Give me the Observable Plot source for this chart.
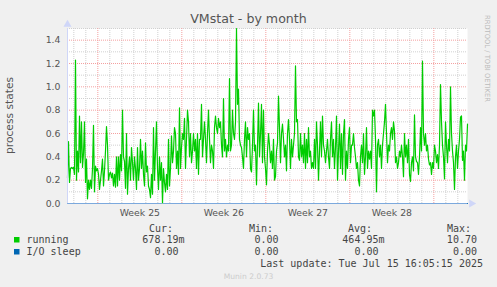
<!DOCTYPE html>
<html><head><meta charset="utf-8">
<script src="https://cdn.jsdelivr.net/npm/d3@7"></script>
<script src="https://cdn.jsdelivr.net/npm/@observablehq/plot@0.6"></script>
<style>
html,body{margin:0;padding:0;background:#f0f0f0;}
#wrap{position:relative;width:497px;height:287px;overflow:hidden;background:#f0f0f0;}
#wrap svg{position:absolute;left:0;top:0;}
</style></head><body><div id="wrap"></div>
<script>
// ---- data (2-hour averages) ----
const running = [
0.22,0.53,0.18,0.3,0.31,0.3,0.31,0.25,1.23,0.2,
0.45,0.27,0.75,0.35,0.7,0.31,0.43,0.7,0.18,0.38,
0.04,0.2,0.12,0.2,0.13,0.3,0.67,0.1,0.32,0.28,
0.3,0.25,0.12,0.2,0.28,0.38,0.15,0.28,0.45,0.66,
0.5,0.2,0.25,0.27,0.22,0.26,0.15,0.25,0.14,0.4,
0.15,0.4,0.2,0.42,0.28,0.8,0.4,0.36,0.13,0.6,
0.08,0.3,0.4,0.2,0.48,0.35,0.2,0.4,0.3,0.12,
0.48,0.2,0.3,0.55,0.3,0.45,0.25,0.15,0.52,0.27,
0.32,
0.15,0.12,0.05,0.25,0.08,0.65,0.2,0.45,0.7,0.3,
0.12,0.4,0.2,0.35,0.0,0.3,0.18,0.1,0.25,0.12,
0.55,0.15,0.3,0.58,0.35,0.45,0.65,0.6,0.3,0.45,
0.25,0.82,0.3,0.48,0.6,0.55,0.73,0.3,0.55,0.8,
0.7,0.4,0.6,0.35,0.45,0.6,0.45,0.55,0.3,0.6,
0.25,0.55,0.55,0.85,0.4,0.55,0.7,0.55,0.35,0.6,
0.8,0.55,0.35,0.5,0.45,0.3,0.65,0.75,0.65,0.6,
0.73,0.65,0.7,0.5,0.4,0.9,0.45,0.55,0.4,0.5,
0.45,1.07,
0.45,0.5,0.8,0.6,0.55,0.7,1.5,0.85,0.98,0.55,
0.5,0.48,0.4,0.3,0.55,0.7,0.4,0.65,0.55,0.6,
0.3,0.27,0.5,0.8,0.45,0.5,0.16,0.5,0.86,0.4,
0.6,0.85,0.35,0.8,0.4,0.3,0.16,0.45,0.6,0.5,
0.35,0.45,0.3,0.55,0.2,0.23,0.45,0.52,0.92,0.65,
0.35,0.6,0.68,0.55,0.4,0.5,0.28,0.6,0.72,0.55,
0.3,0.55,0.4,0.5,0.6,1.18,0.7,0.72,0.4,0.37,
0.6,0.4,0.5,0.35,0.6,0.3,0.55,0.35,0.65,0.4,
0.45,0.3,
0.35,0.3,0.55,0.3,0.7,0.5,0.2,0.45,0.7,0.4,
0.75,0.5,0.45,0.35,0.45,0.55,0.4,0.3,0.55,0.7,
0.4,0.55,0.3,0.48,0.75,0.2,0.45,0.68,0.3,0.6,
0.25,0.6,0.72,0.2,0.45,0.3,0.55,0.65,0.35,0.5,
0.5,0.6,0.48,0.4,0.3,0.35,0.2,0.15,0.4,0.5,
0.35,0.6,0.25,0.4,0.65,0.3,0.45,0.38,0.45,0.3,
0.8,0.75,0.8,0.55,0.1,0.5,0.55,0.4,0.5,0.3,
0.5,0.6,0.7,0.85,0.6,0.35,0.5,0.45,0.6,0.65,
0.55,0.7,
0.62,0.35,0.4,0.3,0.35,0.45,0.4,0.5,0.4,0.23,
0.6,0.4,0.5,0.35,0.55,0.25,0.19,0.35,0.4,0.28,
0.76,0.4,0.36,0.35,0.25,0.4,0.65,0.45,1.22,0.6,
0.5,0.6,0.45,0.5,0.38,0.33,0.35,0.25,0.35,0.3,
0.5,0.45,0.35,0.42,0.3,0.5,1.02,0.7,0.5,0.4,
0.21,0.7,0.5,0.35,0.55,0.45,1.0,0.6,0.45,0.35,
0.12,0.4,0.5,0.3,0.45,0.55,0.74,0.75,0.37,0.45,
0.2,0.5,0.45,0.68
];
const ioSleep = [0, 0];           // flat at 0.00 over the whole period
const weekLabels = ["Week 25", "Week 26", "Week 27", "Week 28"];
const yTicks = [0, 0.2, 0.4, 0.6, 0.8, 1.0, 1.2, 1.4];
const yMinor = [0.1, 0.3, 0.5, 0.7, 0.9, 1.1, 1.3, 1.5];
const yMajor = [0.2, 0.4, 0.6, 0.8, 1.0, 1.2, 1.4];
const legendNames = ["running", "I/O sleep"];
const legendColors = ["#00cc00", "#0066b3"];
const legendHeaders = ["Cur:", "Min:", "Avg:", "Max:"];
const curValues = ["678.19m", "  0.00 "];
const minValues = ["  0.00 ", "  0.00 "];
const avgValues = ["464.95m", "  0.00 "];
const maxValues = [" 10.70 ", "  0.00 "];
const titleText = "VMstat - by month";
const yLabelText = "process states";
const lastUpdateText = "Last update: Tue Jul 15 16:05:15 2025";
const footerText = "Munin 2.0.73";
const watermarkText = "RRDTOOL / TOBI OETIKER";
const startTime = new Date(Date.UTC(2025, 5, 13, 11, 20));
const stepHours = 2;

// ---- derived ----
const series = running.map((v, i) => ({t: d3.utcHour.offset(startTime, i * stepHours), v}));
const endTime = series[series.length - 1].t;
const days = d3.utcDay.range(startTime, endTime);
const mondays = d3.utcMonday.range(startTime, endTime);
const minorDays = days.filter(d => d.getUTCDay() !== 1);
const weekMids = mondays.slice(0, weekLabels.length).map(d => d3.utcHour.offset(d, 84));
const labelByTime = new Map(weekMids.map((d, i) => [+d, weekLabels[i]]));
const ioSeries = ioSleep.map((v, i) => ({t: i === 0 ? startTime : endTime, v}));

const W = 497, H = 287;
const gridDash = "1,1";
const chart = Plot.plot({
  width: W, height: H,
  marginLeft: 67, marginRight: 30, marginTop: 28, marginBottom: 84,
  style: {background: "transparent", fontFamily: "DejaVu Sans, sans-serif", fontSize: "9.33px", color: "#555", overflow: "visible"},
  x: {type: "utc", domain: [startTime, endTime]},
  y: {domain: [0, 1.5]},
  marks: [
    Plot.frame({fill: "white", stroke: "none"}),
    Plot.ruleX(minorDays, {stroke: "#d0d0d0", strokeDasharray: gridDash}),
    Plot.ruleY(yMinor, {stroke: "#d0d0d0", strokeDasharray: gridDash}),
    Plot.ruleX(mondays, {stroke: "#f4a0a0", strokeDasharray: gridDash}),
    Plot.ruleY(yMajor, {stroke: "#f4a0a0", strokeDasharray: gridDash}),
    Plot.line(ioSeries, {x: "t", y: "v", stroke: legendColors[1], strokeWidth: 1}),
    Plot.line(series, {x: "t", y: "v", stroke: legendColors[0], strokeWidth: 1.2}),
    Plot.ruleY([0], {stroke: "#cfd6f8", strokeOpacity: 0.6}),
    Plot.ruleX([startTime], {stroke: "#cfd6f8"}),
    Plot.dot([{t: endTime, v: 0}], {x: "t", y: "v", symbol: "triangle", rotate: 90, r: 3, fill: "#cfd6f8", stroke: "none", dx: 4}),
    Plot.dot([{t: startTime, v: 1.5}], {x: "t", y: "v", symbol: "triangle", r: 3, fill: "#cfd6f8", stroke: "none", dy: -4}),
    Plot.axisY(yTicks, {tickSize: 0, tickPadding: 7, tickFormat: d3.format(".1f"), label: null}),
    Plot.axisX(weekMids, {tickSize: 0, tickPadding: 6, tickFormat: d => labelByTime.get(+d), label: null})
  ]
});
const wrap = document.getElementById("wrap");
wrap.appendChild(chart);

// ---- overlay texts: title, axis label, legend ----
const ov = d3.create("svg").attr("width", W).attr("height", H);
const sans = "DejaVu Sans, sans-serif", mono = "DejaVu Sans Mono, monospace";
ov.append("text").attr("x", 248.5).attr("y", 23).attr("text-anchor", "middle")
  .attr("font-family", sans).attr("font-size", 12.6).attr("fill", "#555").text(titleText);
ov.append("text").attr("transform", "translate(12.5,115.5) rotate(-90)").attr("text-anchor", "middle")
  .attr("font-family", sans).attr("font-size", 10.7).attr("fill", "#555").text(yLabelText);
ov.append("text").attr("transform", "translate(485,15) rotate(90)")
  .attr("font-family", sans).attr("font-size", 7).attr("fill", "#bbb")
  .attr("textLength", 87).attr("lengthAdjust", "spacingAndGlyphs").text(watermarkText);

const legendFont = 10, legendFill = "#444";
const headerX = [149, 249, 348, 447];
legendHeaders.forEach((h, i) => {
  ov.append("text").attr("x", headerX[i]).attr("y", 231.5).attr("font-family", mono)
    .attr("font-size", legendFont).attr("fill", legendFill).text(h);
});
const colRight = [184.5, 284.5, 384.5, 483];
const rowsY = [243, 255];
legendNames.forEach((name, r) => {
  ov.append("rect").attr("x", 14).attr("y", rowsY[r] - 6).attr("width", 5.5).attr("height", 5.5).attr("fill", legendColors[r]);
  ov.append("text").attr("x", 26.5).attr("y", rowsY[r]).attr("font-family", mono)
    .attr("font-size", legendFont).attr("fill", legendFill).text(name);
  [curValues, minValues, avgValues, maxValues].forEach((col, c) => {
    ov.append("text").attr("x", colRight[c]).attr("y", rowsY[r]).attr("text-anchor", "end")
      .style("white-space", "pre").attr("font-family", mono)
      .attr("font-size", legendFont).attr("fill", legendFill).text(col[r]);
  });
});
ov.append("text").attr("x", 483).attr("y", 267).attr("text-anchor", "end").style("white-space", "pre")
  .attr("font-family", mono).attr("font-size", legendFont).attr("fill", legendFill).text(lastUpdateText);
ov.append("text").attr("x", 248.5).attr("y", 279).attr("text-anchor", "middle")
  .attr("font-family", sans).attr("font-size", 7.6).attr("fill", "#ccc").text(footerText);
wrap.appendChild(ov.node());
</script></body></html>
